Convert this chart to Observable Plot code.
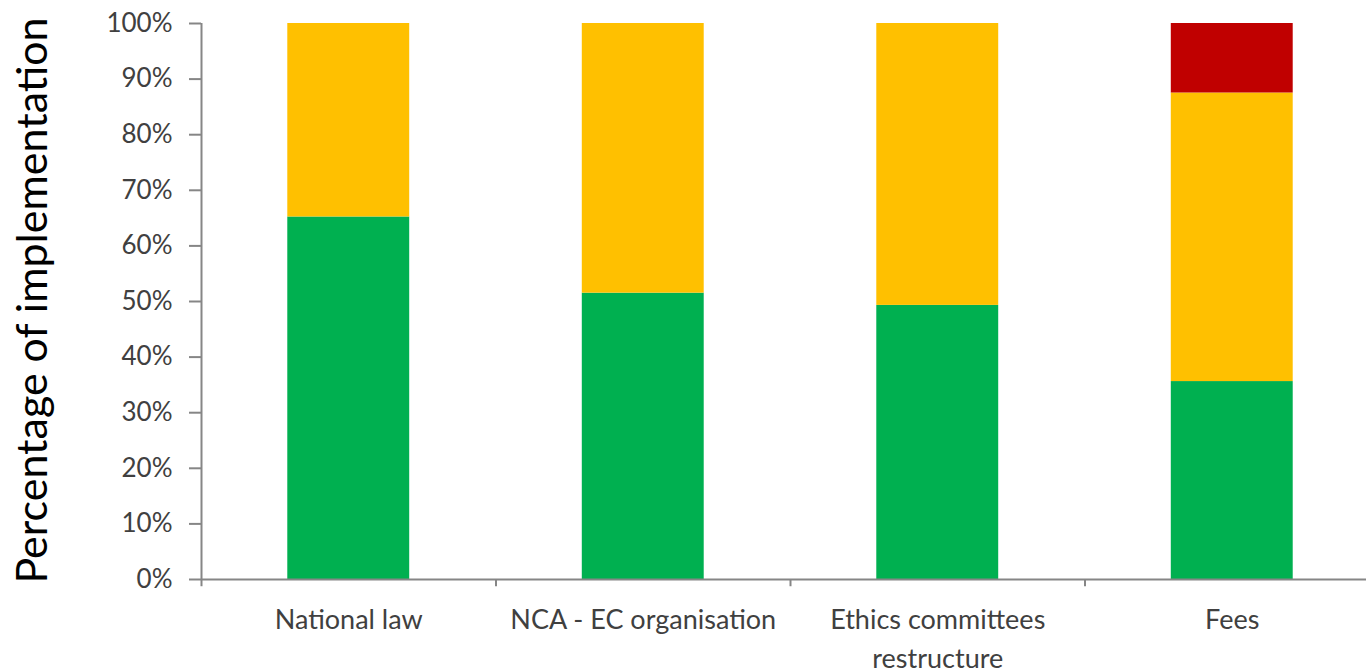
<!DOCTYPE html>
<html>
<head>
<meta charset="utf-8">
<script src="https://cdn.jsdelivr.net/npm/d3@7"></script>
<script src="https://cdn.jsdelivr.net/npm/@observablehq/plot@0.6"></script>
<style>
  html, body { margin: 0; padding: 0; background: #fff; overflow: hidden; }
  #chart svg { overflow: visible; }
</style>
</head>
<body>
<div id="chart"></div>
<script>
const categories = ["National law", "NCA - EC organisation", "Ethics committees restructure", "Fees"];
const xTickLabels = ["National law", "NCA - EC organisation", "Ethics committees\nrestructure", "Fees"];
const statuses = ["Implemented", "Partially implemented", "Not implemented"];
const statusColors = ["#00B050", "#FFC000", "#C00000"];
const implemented = [0.652, 0.515, 0.493, 0.356];
const partial = [0.348, 0.485, 0.507, 0.519];
const notImplemented = [0, 0, 0, 0.125];
const yTicks = [0, 0.1, 0.2, 0.3, 0.4, 0.5, 0.6, 0.7, 0.8, 0.9, 1.0];
const yTitle = "Percentage of implementation";

const series = [implemented, partial, notImplemented];
const rows = [];
statuses.forEach((s, si) => {
  categories.forEach((c, ci) => {
    rows.push({category: c, status: s, value: series[si][ci]});
  });
});

const W = 1366, H = 670;
const mL = 201, mR = -13, mT = 23, mB = 91;
const step = (W - mL - mR) / categories.length;
const labelMap = new Map(categories.map((c, i) => [c, xTickLabels[i]]));
const font = "Lato, 'Open Sans', sans-serif";

const chart = Plot.plot({
  width: W,
  height: H,
  marginLeft: mL,
  marginRight: mR,
  marginTop: mT,
  marginBottom: mB,
  style: {fontFamily: font, background: "#fff"},
  x: {domain: categories, paddingInner: 0.586, paddingOuter: 0.293, round: false, label: null},
  y: {domain: [0, 1], label: null},
  color: {domain: statuses, range: statusColors},
  marks: [
    Plot.barY(rows, {x: "category", y: "value", fill: "status"}),
    // x axis line
    Plot.ruleY([0], {stroke: "#868686", strokeWidth: 2}),
    // y axis line
    Plot.ruleX([categories[0]], {x: d => d, y1: 0, y2: 1, dx: -step / 2, stroke: "#868686", strokeWidth: 2}),
    // category boundary ticks
    Plot.ruleX(categories, {x: d => d, y1: 0, y2: -0.013, dx: -step / 2, stroke: "#868686", strokeWidth: 2}),
    Plot.axisY({
      ticks: yTicks,
      tickFormat: d3.format(".0%"),
      tickSize: 12,
      tickPadding: 17,
      stroke: "#868686",
      strokeWidth: 2,
      fill: "#404040",
      fontSize: 26,
      label: null
    }),
    Plot.axisX({
      tickSize: 0,
      tickPadding: 22,
      tickFormat: d => labelMap.get(d),
      fill: "#404040",
      fontSize: 27,
      lineHeight: 1.44,
      label: null
    }),
    Plot.text([yTitle], {
      frameAnchor: "left",
      textAnchor: "middle",
      rotate: -90,
      dx: -168,
      dy: -1,
      fontSize: 43,
      fill: "#000"
    })
  ]
});
document.getElementById("chart").appendChild(chart);
</script>
</body>
</html>
